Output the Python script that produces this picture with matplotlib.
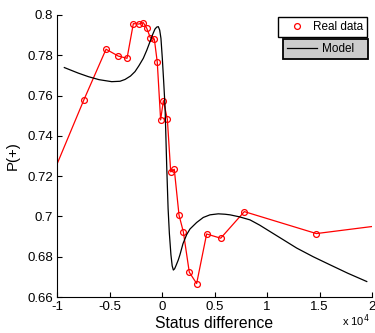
import matplotlib
matplotlib.use('Agg')
import matplotlib.pyplot as plt

plt.rcParams['font.family'] = ['Liberation Sans', 'DejaVu Sans']

# status difference in units of 1e4
real_x = [-1.2, -0.743, -0.533, -0.416, -0.333, -0.273, -0.222, -0.178, -0.146,
          -0.111, -0.073, -0.045, -0.013, 0.013, 0.051, 0.083, 0.117, 0.162,
          0.203, 0.260, 0.330, 0.425, 0.559, 0.784, 1.470, 2.5]
real_y = [0.701, 0.758, 0.783, 0.7796, 0.7785, 0.7957, 0.7955, 0.7962, 0.7935,
          0.7887, 0.7881, 0.7765, 0.7479, 0.7575, 0.7482, 0.7221, 0.7234, 0.7007,
          0.6924, 0.6723, 0.6667, 0.6913, 0.6892, 0.7024, 0.6915, 0.6983]

model_x = [-0.93, -0.80, -0.702, -0.60, -0.479, -0.40, -0.352, -0.30, -0.257, -0.22,
           -0.178, -0.145, -0.114, -0.09, -0.067, -0.05, -0.035, -0.022, -0.01, 0.003,
           0.016, 0.029, 0.045, 0.058, 0.07, 0.085, 0.097, 0.108, 0.12, 0.135,
           0.155, 0.171, 0.20, 0.235, 0.267, 0.33, 0.393, 0.457, 0.536, 0.60,
           0.648, 0.738, 0.838, 0.93, 1.029, 1.15, 1.283, 1.44, 1.6, 1.77, 1.95]
model_y = [0.7739, 0.7712, 0.7694, 0.7679, 0.7669, 0.7671, 0.7680, 0.7697, 0.7719, 0.7748,
           0.7785, 0.7825, 0.7868, 0.7902, 0.7930, 0.7940, 0.7942, 0.7925, 0.7884, 0.7785,
           0.7669, 0.7545, 0.7247, 0.7040, 0.6917, 0.6810, 0.6755, 0.6734, 0.6740, 0.6758,
           0.6784, 0.6810, 0.6865, 0.6910, 0.6938, 0.6970, 0.6995, 0.7008, 0.7013, 0.7011,
           0.7008, 0.6998, 0.6983, 0.6957, 0.6925, 0.6886, 0.6843, 0.6800, 0.6760, 0.6718, 0.6677]

xticks = [-1, -0.5, 0, 0.5, 1, 1.5, 2]
yticks = [0.66, 0.68, 0.7, 0.72, 0.74, 0.76, 0.78, 0.8]

fig = plt.figure(figsize=(3.75, 3.33), dpi=100)
ax = fig.add_axes([0.152, 0.108, 0.840, 0.847])

l1, = ax.plot(real_x, real_y, '-o', color='red', lw=0.9, ms=4.2,
              mfc='none', mec='red', mew=0.9)
l2, = ax.plot(model_x, model_y, '-', color='black', lw=0.9)

ax.set_xlim(-1, 2)
ax.set_ylim(0.66, 0.8)
ax.set_xticks(xticks)
ax.set_xticklabels(['%g' % t for t in xticks])
ax.set_yticks(yticks)
ax.set_yticklabels(['%g' % t for t in yticks])
ax.tick_params(direction='in', length=3.5, labelsize=9.5, width=0.8, pad=3)
ax.spines['top'].set_visible(False)
ax.spines['right'].set_visible(False)

ax.set_xlabel('Status difference', fontsize=11.3, labelpad=2)
ax.set_ylabel('P(+)', fontsize=10.8, labelpad=5)
fig.text(0.948, 0.012, 'x 10$^4$', fontsize=8, ha='center', va='bottom')

# two separate legends, MATLAB style
lg1 = ax.legend([l1], ['Real data'], loc='upper right',
                bbox_to_anchor=(0.979, 0.949), bbox_transform=fig.transFigure,
                fancybox=False, edgecolor='black', framealpha=1, fontsize=8.5,
                handlelength=2.5, borderpad=0.35, handletextpad=0.1, borderaxespad=0)
lg1.get_lines()[0].set_linestyle('none')
lg1.get_frame().set_linewidth(1.0)
ax.add_artist(lg1)
lg2 = ax.legend([l2], ['Model   '], loc='upper right',
                bbox_to_anchor=(0.981, 0.883), bbox_transform=fig.transFigure,
                fancybox=False, edgecolor='black', facecolor='#cccccc', framealpha=1,
                fontsize=8.5, handlelength=2.55, borderpad=0.35, handletextpad=0.42,
                borderaxespad=0)
lg2.get_frame().set_linewidth(1.3)

fig.savefig('out.png', dpi=100)
